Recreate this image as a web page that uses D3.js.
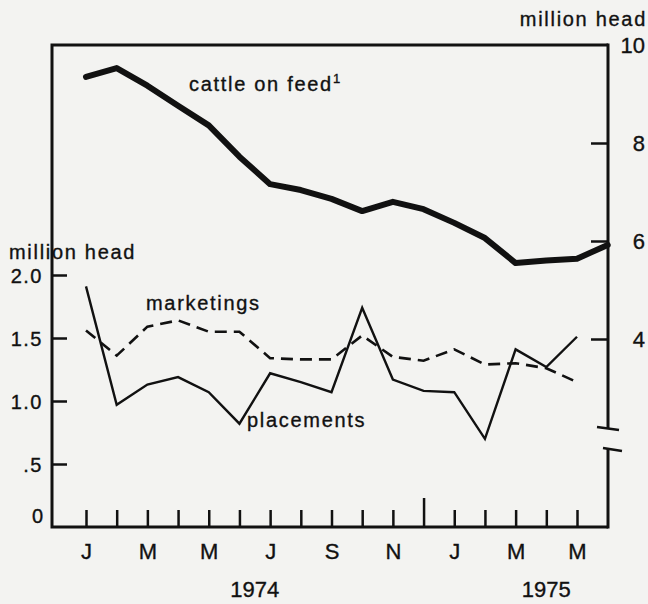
<!DOCTYPE html>
<html>
<head>
<meta charset="utf-8">
<script src="https://cdn.jsdelivr.net/npm/d3@7"></script>
<style>
  body { margin: 0; background: #f3f3f1; }
  svg { display: block; }
  text { font-family: 'Liberation Sans', Arial, sans-serif; fill: #111; stroke: #111; stroke-width: 0.35px; }
</style>
</head>
<body>
<div id="chart"></div>
<script>
// month index 0 = Jan 1974
const monthLabels = ['J', '', 'M', '', 'M', '', 'J', '', 'S', '', 'N', '', 'J', '', 'M', '', 'M']
const yearLabels = ['1974', '1975']
const yearPositions = [5.5, 15]
const yearTick = 11

// cattle on feed, million head (right scale), runs one month past the last tick
const cattleOnFeed = [9.35, 9.53, 9.17, 8.76, 8.36, 7.72, 7.16, 7.04, 6.86, 6.61, 6.80, 6.65, 6.37, 6.06, 5.55, 5.60, 5.64, 5.92]
// monthly flows, million head (left scale)
const placements = [1.91, 0.97, 1.13, 1.19, 1.07, 0.82, 1.22, 1.15, 1.07, 1.74, 1.17, 1.08, 1.07, 0.70, 1.41, 1.27, 1.51]
const marketings = [1.56, 1.36, 1.59, 1.64, 1.55, 1.55, 1.34, 1.33, 1.33, 1.52, 1.35, 1.32, 1.41, 1.29, 1.30, 1.26, 1.15]

const leftTicks = [0, 0.5, 1, 1.5, 2]
const leftTickLabels = ['0', '.5', '1.0', '1.5', '2.0']
const rightTicks = [4, 6, 8, 10]
const rightTickLabels = ['4', '6', '8', '10']

const width = 648
const height = 604
const frame = { left: 52, right: 608, top: 45, bottom: 527 }
const ink = '#111'

const svg = d3.select('#chart')
  .append('svg')
  .attr('width', width)
  .attr('height', height)

const x = d3.scaleLinear().domain([0, 16]).range([86, 577])
const yLeft = d3.scaleLinear().domain([0, 2]).range([frame.bottom, 275])
const yRight = d3.scaleLinear().domain([4, 10]).range([339, frame.top])

// frame: top line, left axis, bottom axis
svg.append('path')
  .attr('d', `M${frame.right},${frame.bottom} H${frame.left} V${frame.top} H${frame.right}`)
  .attr('fill', 'none')
  .attr('stroke', ink)
  .attr('stroke-width', 3)

// right axis with a break near the bottom
const breakTop = 428
const breakBottom = 449
svg.append('line')
  .attr('x1', frame.right).attr('x2', frame.right)
  .attr('y1', frame.top - 1.5).attr('y2', breakTop)
  .attr('stroke', ink).attr('stroke-width', 3)
svg.append('line')
  .attr('x1', frame.right).attr('x2', frame.right)
  .attr('y1', breakBottom).attr('y2', frame.bottom + 1.5)
  .attr('stroke', ink).attr('stroke-width', 3)
svg.append('line')
  .attr('x1', frame.right - 11).attr('x2', frame.right + 11)
  .attr('y1', breakTop - 1).attr('y2', breakTop + 2)
  .attr('stroke', ink).attr('stroke-width', 2.5)
svg.append('line')
  .attr('x1', frame.right - 5).attr('x2', frame.right + 14)
  .attr('y1', breakBottom - 1).attr('y2', breakBottom + 2)
  .attr('stroke', ink).attr('stroke-width', 2.5)

// left axis ticks + labels
const leftAxis = svg.append('g')
  .attr('transform', `translate(${frame.left}, 0)`)
  .call(d3.axisLeft(yLeft)
    .tickValues(leftTicks.filter(d => d > 0))
    .tickSize(-15)
    .tickPadding(9)
    .tickFormat(d => leftTickLabels[leftTicks.indexOf(d)]))
leftAxis.select('.domain').remove()
leftAxis.selectAll('line').attr('stroke', ink).attr('stroke-width', 2.5)
leftAxis.selectAll('text')
  .style('font-size', '20px')
  .style('letter-spacing', '1.5px')
  .attr('fill', ink)
  .attr('dy', '0.36em')

// "0" sits a little above the bottom axis
svg.append('text')
  .attr('x', frame.left - 9)
  .attr('y', yLeft(0) - 4)
  .attr('text-anchor', 'end')
  .style('font-size', '20px')
  .text(leftTickLabels[0])

// right axis ticks + labels
const rightAxis = svg.append('g')
  .attr('transform', `translate(${frame.right}, 0)`)
  .call(d3.axisRight(yRight)
    .tickValues(rightTicks)
    .tickSize(-17)
    .tickPadding(37)
    .tickFormat(d => rightTickLabels[rightTicks.indexOf(d)]))
rightAxis.select('.domain').remove()
rightAxis.selectAll('line')
  .attr('stroke', ink).attr('stroke-width', 2.5)
  .attr('display', d => d === 10 ? 'none' : null)
rightAxis.selectAll('text')
  .attr('text-anchor', 'end')
  .style('font-size', '22px')
  .attr('fill', ink)
  .attr('dy', '0.36em')

// bottom axis: month ticks pointing up
const months = d3.range(monthLabels.length)
const bottomAxis = svg.append('g')
  .attr('transform', `translate(0, ${frame.bottom})`)
  .call(d3.axisBottom(x)
    .tickValues(months)
    .tickSize(-17)
    .tickPadding(15)
    .tickFormat(d => monthLabels[d]))
bottomAxis.select('.domain').remove()
bottomAxis.selectAll('line')
  .attr('stroke', ink).attr('stroke-width', 2.5)
  .attr('y2', d => d === yearTick ? -29 : -17)
bottomAxis.selectAll('text')
  .style('font-size', '22px')
  .attr('fill', ink)
  .attr('dy', '0.75em')

svg.selectAll('.year')
  .data(yearLabels)
  .enter()
  .append('text')
  .classed('year', true)
  .attr('x', (d, i) => x(yearPositions[i]))
  .attr('y', 597)
  .attr('text-anchor', 'middle')
  .style('font-size', '22px')
  .text(d => d)

// series
const cattleLine = d3.line().x((d, i) => x(i)).y(d => yRight(d))
const flowLine = d3.line().x((d, i) => x(i)).y(d => yLeft(d))

svg.append('path')
  .datum(marketings)
  .attr('d', flowLine)
  .attr('fill', 'none')
  .attr('stroke', ink)
  .attr('stroke-width', 2.6)
  .attr('stroke-dasharray', '12,7')

svg.append('path')
  .datum(placements)
  .attr('d', flowLine)
  .attr('fill', 'none')
  .attr('stroke', ink)
  .attr('stroke-width', 2.4)
  .attr('stroke-linejoin', 'miter')

svg.append('path')
  .datum(cattleOnFeed)
  .attr('d', cattleLine)
  .attr('fill', 'none')
  .attr('stroke', ink)
  .attr('stroke-width', 6)
  .attr('stroke-linejoin', 'round')
  .attr('stroke-linecap', 'round')

// labels
const labelStyle = sel => sel.style('font-size', '20px').style('letter-spacing', '1.7px')

const cattleLabel = svg.append('text')
  .attr('x', 189)
  .attr('y', 91)
  .call(labelStyle)
cattleLabel.append('tspan').text('cattle on feed')
cattleLabel.append('tspan')
  .attr('dy', -8)
  .style('font-size', '13px')
  .style('letter-spacing', '0px')
  .text('1')

svg.append('text').attr('x', 146).attr('y', 310).call(labelStyle).text('marketings')
svg.append('text').attr('x', 247).attr('y', 427).call(labelStyle).text('placements')

svg.append('text').attr('x', 9).attr('y', 259).call(labelStyle).text('million head')
svg.append('text').attr('x', 647).attr('y', 26).attr('text-anchor', 'end').call(labelStyle).text('million head')
</script>
</body>
</html>
